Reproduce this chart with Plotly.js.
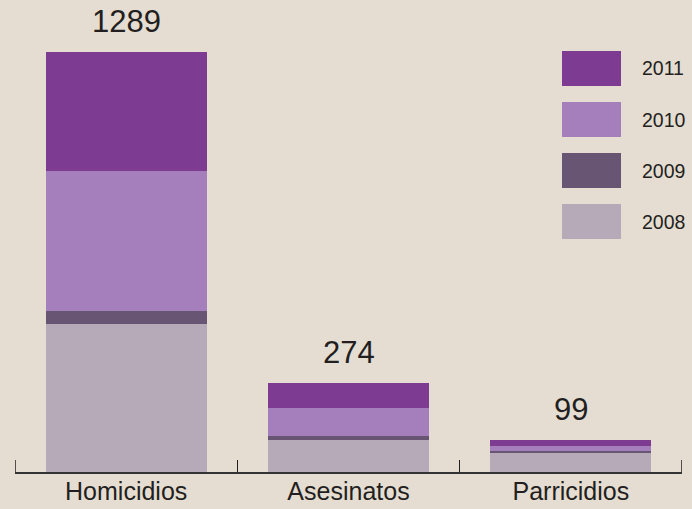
<!DOCTYPE html>
<html>
<head>
<meta charset="utf-8">
<script src="https://cdn.plot.ly/plotly-3.0.1.min.js"></script>
<style>html,body{margin:0;padding:0;background:#E5DDD2;}#chart{width:692px;height:509px;}</style>
</head>
<body>
<div id="chart"></div>
<script>
var categories = ["Homicidios", "Asesinatos", "Parricidios"];
var years = ["2008", "2009", "2010", "2011"];
var v2008 = [454, 97, 57];
var v2009 = [39, 15, 6];
var v2010 = [430, 83, 18];
var v2011 = [366, 79, 18];
var totals = [1289, 274, 99];
var colors = ["#B6A9B8", "#685573", "#A57FBB", "#7D3C92"];

var series = [v2008, v2009, v2010, v2011];
var traces = series.map(function (vals, i) {
  return {
    type: "bar",
    name: years[i],
    x: categories,
    y: vals,
    marker: {color: colors[i], line: {width: 0}},
    showlegend: false,
    hoverinfo: "none"
  };
});

var W = 692, H = 509, mL = 15, mR = 10, mT = 52, mB = 37;
var pw = W - mL - mR, ph = H - mT - mB;
function px2x(px) { return (px - mL) / pw; }
function py2y(py) { return (H - mB - py) / ph; }

var shapes = [], annotations = [];
// legend (top to bottom: 2011, 2010, 2009, 2008)
for (var k = 0; k < years.length; k++) {
  var idx = years.length - 1 - k;
  var boxTop = 51 + k * 51, boxBot = boxTop + 35;
  shapes.push({type: "rect", xref: "paper", yref: "paper",
    x0: px2x(562), x1: px2x(621), y0: py2y(boxBot), y1: py2y(boxTop),
    fillcolor: colors[idx], line: {width: 0}, layer: "above"});
  annotations.push({xref: "paper", yref: "paper", x: px2x(640), y: py2y((boxTop + boxBot) / 2),
    xanchor: "left", yanchor: "middle", text: years[idx], showarrow: false,
    font: {family: "Liberation Sans, Arial, sans-serif", size: 19.5, color: "#231F20"}});
}
// end ticks of the category axis
[-0.5, 2.5].forEach(function (b) {
  shapes.push({type: "line", xref: "x", yref: "paper", x0: b, x1: b, y0: 0, y1: 12 / ph,
    line: {color: "#231F20", width: 1.5}});
});
// totals
for (var c = 0; c < categories.length; c++) {
  annotations.push({x: categories[c], y: totals[c], xref: "x", yref: "y",
    text: String(totals[c]), showarrow: false, yanchor: "bottom", yshift: 11,
    font: {family: "Liberation Sans, Arial, sans-serif", size: 31, color: "#231F20"}});
}

var layout = {
  width: W, height: H,
  margin: {l: mL, r: mR, t: mT, b: mB, pad: 0},
  paper_bgcolor: "#E5DDD2", plot_bgcolor: "#E5DDD2",
  barmode: "stack", bargap: 0.276,
  showlegend: false,
  xaxis: {
    type: "category", range: [-0.5, 2.5], fixedrange: true,
    showline: true, linecolor: "#333333", linewidth: 1.5,
    ticks: "inside", tickson: "boundaries", ticklen: 12, tickwidth: 1.5, tickcolor: "#231F20",
    showgrid: false, zeroline: false, ticklabelstandoff: -4,
    tickfont: {family: "Liberation Sans, Arial, sans-serif", size: 25, color: "#231F20"}
  },
  yaxis: {
    range: [0, 1289], visible: false, showgrid: false, zeroline: false, fixedrange: true
  },
  shapes: shapes,
  annotations: annotations
};

Plotly.newPlot("chart", traces, layout, {staticPlot: true, displayModeBar: false});
</script>
</body>
</html>
